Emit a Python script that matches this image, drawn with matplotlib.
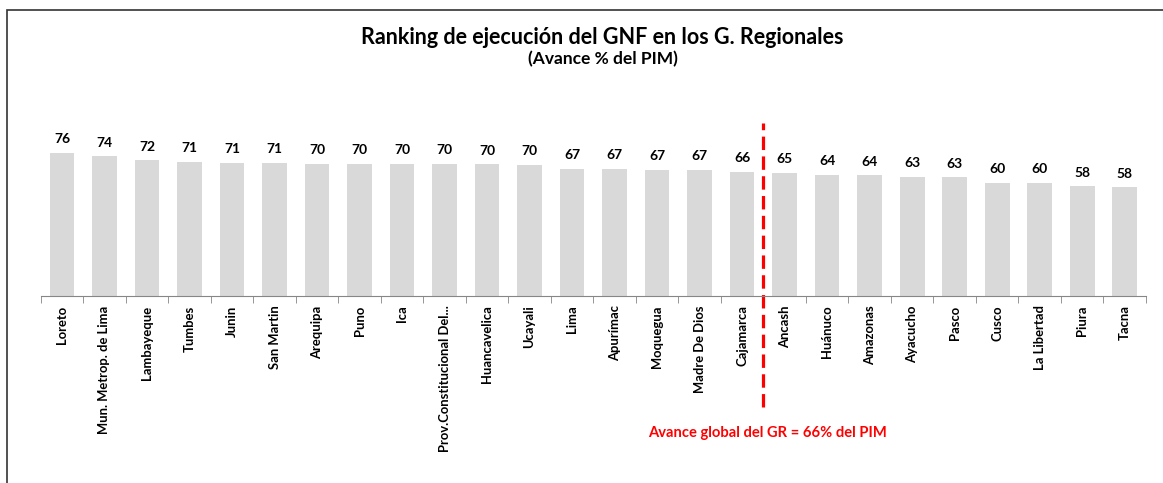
import matplotlib.pyplot as plt
import matplotlib.patches as patches
import numpy as np

plt.rcParams['font.family'] = ['Lato', 'DejaVu Sans']

regiones = ['Loreto', 'Mun. Metrop. de Lima', 'Lambayeque', 'Tumbes', 'Junin',
            'San Martin', 'Arequipa', 'Puno', 'Ica', 'Prov.Constitucional Del...',
            'Huancavelica', 'Ucayali', 'Lima', 'Apurímac', 'Moquegua',
            'Madre De Dios', 'Cajamarca', 'Ancash', 'Huánuco', 'Amazonas',
            'Ayacucho', 'Pasco', 'Cusco', 'La Libertad', 'Piura', 'Tacna']
avance = [76.0, 74.2, 72.0, 71.3, 70.8, 70.8, 70.3, 70.3, 70.2, 70.2,
          69.8, 69.6, 67.4, 67.4, 67.0, 66.9, 66.0, 65.3, 64.2, 64.1,
          63.2, 63.0, 60.1, 60.0, 58.2, 57.6]
avance_global = 66
corte = 16.5  # between Cajamarca and Ancash

W, H = 1163, 483
fig = plt.figure(figsize=(W / 100, H / 100), dpi=100)

# frame (only left and top edges visible)
fig.patches.append(patches.Rectangle((7 / W, -0.1), 1.2, 1 - 10 / H + 0.1,
                                     transform=fig.transFigure, fill=False,
                                     edgecolor='#333333', linewidth=1.2))

ax = fig.add_axes([40.7 / W, 1 - 295.7 / H, 1105.3 / W, 150.4 / H])
x = np.arange(len(regiones))
ax.bar(x, avance, width=0.58, color='#D9D9D9')
ax.set_xlim(-0.5, len(regiones) - 0.5)
ax.set_ylim(0, 80)

for xi, v in zip(x, avance):
    ax.annotate(f'{v:.0f}', (xi, v), xytext=(0, 5.5), textcoords='offset points',
                ha='center', va='bottom', fontsize=10, fontweight='bold')

for s in ['top', 'right', 'left']:
    ax.spines[s].set_visible(False)
ax.spines['bottom'].set_color('#868686')
ax.set_yticks([])
ax.set_xticks(x)
ax.set_xticklabels(regiones, rotation=90, fontsize=9.4, fontweight='bold')
ax.tick_params(axis='x', which='major', length=0, pad=7)
ax.set_xticks(np.arange(-0.5, len(regiones)), minor=True)
ax.tick_params(axis='x', which='minor', length=5, color='#868686')

# global average marker
ax.plot([corte, corte], [-59, 92], color='red', linewidth=2.3,
        linestyle=(0, (4.2, 2)), clip_on=False)
ax.text(corte + 0.1, -73, f'Avance global del GR = {avance_global}% del PIM',
        color='red', fontsize=10.6, fontweight='bold', ha='center', va='center')

fig.text(602 / W, 1 - 38 / H, 'Ranking de ejecución del GNF en los G. Regionales',
         ha='center', va='center', fontsize=15.5, fontweight='bold')
fig.text(603 / W, 1 - 59 / H, '(Avance % del PIM)',
         ha='center', va='center', fontsize=12.5, fontweight='bold')

fig.savefig('out.png', dpi=100)
